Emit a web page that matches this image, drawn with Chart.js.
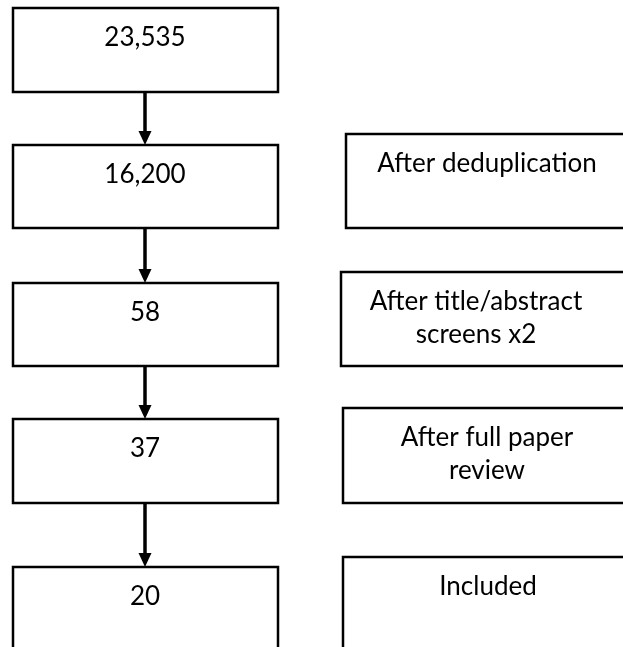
<!DOCTYPE html>
<html>
<head>
<meta charset="utf-8">
<script src="https://cdn.jsdelivr.net/npm/chart.js@4"></script>
<style>
  body { margin: 0; background: #fff; }
  #wrap { width: 623px; height: 647px; }
</style>
</head>
<body>
<div id="wrap"><canvas id="flow" width="623" height="647"></canvas></div>
<script>
//counts at each stage of the search
var stageCounts = [23535, 16200, 58, 37, 20];
//what happened at each stage (first box has no note)
var stageNotes = ['', 'After deduplication', ['After title/abstract', 'screens x2'], ['After full paper', 'review'], 'Included'];

//layout, in page units (the hidden axes run 0..623 and 0..647)
var leftX0 = 13, leftX1 = 278, leftTextX = 145;
var boxTops = [8, 145, 283, 419, 567];
var boxBottoms = [92, 228, 366, 503, 690];
var noteLefts = [null, 346, 341, 343, 343];
var noteTops = [null, 134, 272, 408, 557];
var noteBottoms = [null, 228, 366, 503, 690];
var noteTextX = [null, 487, 476, 487, 488];
var baselineGap = 38, lineGap = 33;
var font = '26px Lato';

//draws the boxes, arrows and texts through the chart's scales
var flowPlugin = {
  id: 'flow',
  afterDraw: function (chart) {
    var ctx = chart.ctx;
    var sx = chart.scales.x, sy = chart.scales.y;
    var px = function (v) { return sx.getPixelForValue(v); };
    var py = function (v) { return sy.getPixelForValue(v); };

    ctx.save();
    ctx.strokeStyle = '#000';
    ctx.fillStyle = '#000';
    ctx.lineWidth = 2.5;
    ctx.font = font;
    ctx.textAlign = 'center';
    ctx.textBaseline = 'alphabetic';

    for (var i = 0; i < stageCounts.length; i++) {
      //count box
      ctx.strokeRect(px(leftX0), py(boxTops[i]), px(leftX1) - px(leftX0), py(boxBottoms[i]) - py(boxTops[i]));
      ctx.fillText(stageCounts[i].toLocaleString('en-US'), px(leftTextX), py(boxTops[i] + baselineGap));

      //arrow down to next box
      if (i < stageCounts.length - 1) {
        var yA = py(boxBottoms[i]), yB = py(boxTops[i + 1]);
        ctx.lineWidth = 3.5;
        ctx.beginPath();
        ctx.moveTo(px(leftTextX), yA);
        ctx.lineTo(px(leftTextX), yB - 12);
        ctx.stroke();
        ctx.beginPath();
        ctx.moveTo(px(leftTextX) - 6.5, yB - 14);
        ctx.lineTo(px(leftTextX) + 6.5, yB - 14);
        ctx.lineTo(px(leftTextX), yB);
        ctx.closePath();
        ctx.fill();
        ctx.lineWidth = 2.5;
      }

      //note box
      if (noteLefts[i] !== null) {
        ctx.strokeRect(px(noteLefts[i]), py(noteTops[i]), px(640) - px(noteLefts[i]), py(noteBottoms[i]) - py(noteTops[i]));
        var lines = [].concat(stageNotes[i]);
        for (var j = 0; j < lines.length; j++) {
          ctx.fillText(lines[j], px(noteTextX[i]), py(noteTops[i] + baselineGap + j * lineGap));
        }
      }
    }
    ctx.restore();
  }
};

var myChart = new Chart(document.getElementById('flow').getContext('2d'), {
  type: 'scatter',
  data: {
    datasets: [{
      data: stageCounts.map(function (c, i) { return { x: leftTextX, y: boxTops[i] }; }),
      pointRadius: 0
    }]
  },
  options: {
    responsive: false,
    animation: false,
    layout: { padding: 0 },
    plugins: { legend: { display: false }, tooltip: { enabled: false } },
    scales: {
      x: { type: 'linear', min: 0, max: 623, display: false },
      y: { type: 'linear', min: 0, max: 647, reverse: true, display: false }
    }
  },
  plugins: [flowPlugin]
});
</script>
</body>
</html>
